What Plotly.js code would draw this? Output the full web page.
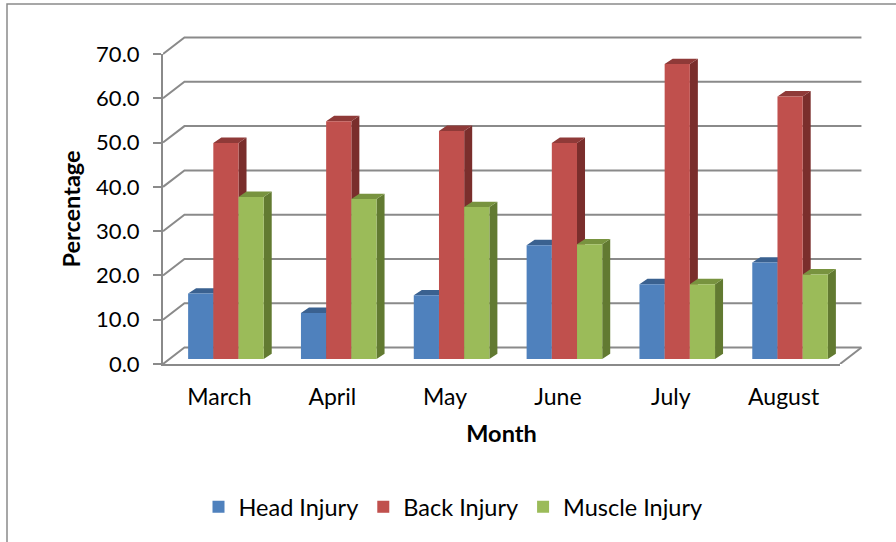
<!DOCTYPE html>
<html><head><meta charset="utf-8">
<script src="https://cdn.plot.ly/plotly-3.0.1.min.js"></script>
<style>html,body{margin:0;padding:0;background:#fff;overflow:hidden}</style></head>
<body><div id="chart" style="width:896px;height:542px"></div>
<script>
const months = ["March","April","May","June","July","August"];
const headInjury = [14.8,10.4,14.4,25.7,16.9,21.8];
const backInjury = [48.8,53.7,51.5,48.8,66.6,59.3];
const muscleInjury = [36.6,36.1,34.3,25.9,16.9,19.1];
const seriesNames = ["Head Injury","Back Injury","Muscle Injury"];
const frontColors = ["#4F81BD","#C0504D","#9BBB59"];
const topColors = ["#3A6190","#8F3A38","#78933F"];
const sideColors = ["#335580","#7A2E2C","#627A31"];
const yTicks = [0,10,20,30,40,50,60,70];
const yTickLabels = ["0.0","10.0","20.0","30.0","40.0","50.0","60.0","70.0"];

const FONT = "Lato, Carlito, Calibri, sans-serif";
const GRID = "#8a8a8a";
// pseudo-3D projection, in axis units
const wallDX = 0.19, wallDY = 3.72;
const barW = 0.2233, barDX = 0.071, barDY = 1.2, barShift = 0.0576, barBase = 1.13;
const allValues = [headInjury, backInjury, muscleInjury];
const catX = months.map((m,i)=>i+0.5);

const W=896,H=542,L=163,R=868,T=32,B=364;      // region holding the whole 3D box
const FRONT_R=840, FRONT_T=54;                  // front plane of the box
const PW=R-L, PH=B-T;
const xDomEnd=(FRONT_R-L)/PW, yDomEnd=(B-FRONT_T)/PH;

const traces = [];
// back wall + floor lines (first subplot, hidden axes with the same scale, spanning the whole box)
yTicks.forEach(v=>{
  traces.push({type:"scatter",mode:"lines",xaxis:"x",yaxis:"y",showlegend:false,hoverinfo:"skip",
    x:[0,wallDX,6+wallDX],y:[v,v+wallDY,v+wallDY],line:{color:GRID,width:2}});
});
traces.push({type:"scatter",mode:"lines",xaxis:"x",yaxis:"y",showlegend:false,hoverinfo:"skip",
  x:[6,6+wallDX],y:[0,wallDY],line:{color:GRID,width:2}});

// depth faces (drawn under the front faces)
allValues.forEach((vals,s)=>{
  const sx=[],sy=[],tx=[],ty=[];
  vals.forEach((v,i)=>{
    const xl=catX[i]+barShift+(s-1.5)*barW, xr=xl+barW, top=barBase+v;
    sx.push(xr,xr+barDX,xr+barDX,xr,xr,null);
    sy.push(barBase,barBase+barDY,top+barDY,top,barBase,null);
    tx.push(xl,xl+barDX,xr+barDX,xr,xl,null);
    ty.push(top,top+barDY,top+barDY,top,top,null);
  });
  traces.push({type:"scatter",mode:"lines",fill:"toself",xaxis:"x2",yaxis:"y2",showlegend:false,hoverinfo:"skip",
    x:sx,y:sy,fillcolor:sideColors[s],line:{width:0,color:sideColors[s]}});
  traces.push({type:"scatter",mode:"lines",fill:"toself",xaxis:"x2",yaxis:"y2",showlegend:false,hoverinfo:"skip",
    x:tx,y:ty,fillcolor:topColors[s],line:{width:0,color:topColors[s]}});
});

// front faces
allValues.forEach((vals,s)=>{
  traces.push({type:"bar",name:seriesNames[s],xaxis:"x3",yaxis:"y3",
    x:catX.map(c=>c+barShift),y:vals,base:vals.map(()=>barBase),
    marker:{color:frontColors[s],line:{width:0}},hovertemplate:"%{y:.1f}<extra>"+seriesNames[s]+"</extra>"});
});

const layout = {
  width:W,height:H,paper_bgcolor:"#fff",plot_bgcolor:"rgba(0,0,0,0)",
  margin:{l:L,r:W-R,t:T,b:H-B,pad:0},
  barmode:"group",bargap:0.33,bargroupgap:0,
  font:{family:FONT,color:"#000",size:22},
  xaxis:{domain:[0,1],range:[0,6/xDomEnd],visible:false,fixedrange:true},
  yaxis:{domain:[0,1],range:[0,70/yDomEnd],visible:false,fixedrange:true},
  xaxis2:{domain:[0,xDomEnd],anchor:"y2",range:[0,6],tickmode:"array",tickvals:catX,ticktext:months,showgrid:false,zeroline:false,
    showline:true,linecolor:GRID,linewidth:2,ticks:"outside",ticklen:11,tickcolor:"rgba(0,0,0,0)",
    tickfont:{family:FONT,size:23,color:"#000"},
    title:{text:"<b>Month</b>",font:{family:FONT,size:23.5,color:"#000"},standoff:17}},
  yaxis2:{domain:[0,yDomEnd],anchor:"x2",range:[0,70],tickmode:"array",tickvals:yTicks,ticktext:yTickLabels,showgrid:false,zeroline:false,
    showline:true,linecolor:GRID,linewidth:2,ticks:"outside",ticklen:8,tickwidth:2,tickcolor:GRID,ticklabelstandoff:9,
    tickfont:{family:FONT,size:22,color:"#000"},
    title:{text:"<b>Percentage</b>",font:{family:FONT,size:23.5,color:"#000"},standoff:9}},
  xaxis3:{domain:[0,xDomEnd],anchor:"y3",overlaying:"x2",range:[0,6],visible:false,fixedrange:true},
  yaxis3:{domain:[0,yDomEnd],anchor:"x3",overlaying:"y2",range:[0,70],visible:false,fixedrange:true},
  legend:{orientation:"h",xref:"paper",yref:"paper",x:(453-L)/PW,xanchor:"center",y:(B-507)/PH,yanchor:"middle",
    font:{family:FONT,size:23.5,color:"#000"},bgcolor:"rgba(0,0,0,0)",traceorder:"normal",itemclick:false,itemdoubleclick:false},
  shapes:[{type:"path",xref:"paper",yref:"paper",layer:"below",
    path:`M ${(7-L)/PW} ${(B-H)/PH} L ${(7-L)/PW} ${(B-4)/PH} L ${(W-L)/PW} ${(B-4)/PH}`,
    line:{color:"#8a8a8a",width:1.5}}],
  showlegend:true
};
Plotly.newPlot("chart",traces,layout,{displayModeBar:false,responsive:false});
</script></body></html>
